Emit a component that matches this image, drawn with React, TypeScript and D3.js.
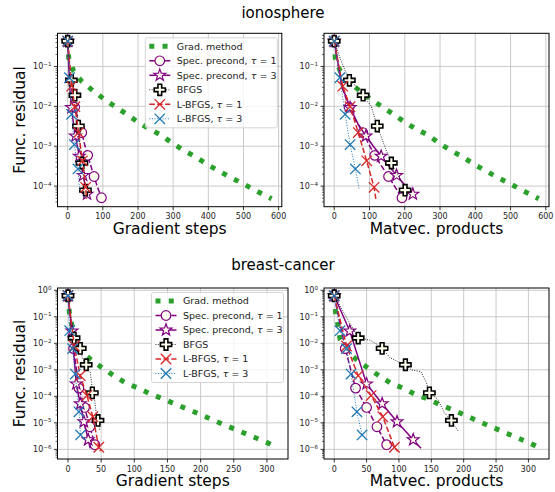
import React from 'react';
import * as d3 from 'd3';

// ---------- data: ionosphere ----------
const ionoGradIters = [0, 3, 17, 40, 71, 102, 134, 166, 197, 229, 266, 297, 331, 364, 397, 430, 465, 499, 532, 567, 580];
const ionoGradRes = [0.43, 0.16, 0.076, 0.042, 0.025, 0.0155, 0.01, 0.0065, 0.0042, 0.0028, 0.0019, 0.0012, 0.00078, 0.00054, 0.00035, 0.00024, 0.000162, 0.000115, 0.000079, 0.000055, 0.000048];

const ionoSpec1Steps = [0, 10, 20, 30, 40, 48, 57, 66, 75, 85, 96];
const ionoSpec1Matvecs = [0, 21, 42, 61, 81, 98, 115, 134, 154, 173, 192];
const ionoSpec1Res = [0.43, 0.032, 0.0095, 0.0044, 0.0022, 0.00112, 0.00059, 0.00032, 0.000174, 0.000093, 0.000051];
const ionoSpec1Marks = [0, 2, 4, 6, 8, 10];

const ionoSpec3Steps = [0, 5.5, 11, 16.5, 22, 27.5, 33, 38.5, 44, 49.5, 55];
const ionoSpec3Matvecs = [0, 22, 45, 67, 90, 111, 133, 155, 177, 200, 223];
const ionoSpec3Res = [0.43, 0.032, 0.0093, 0.0037, 0.0018, 0.001, 0.00056, 0.00032, 0.000186, 0.000107, 0.000063];
const ionoSpec3Marks = [0, 2, 4, 6, 8, 10];

const ionoBfgsSteps = [0, 5, 10.5, 15.5, 20.5, 25.5, 30.5, 35.5, 40.5, 45.5, 50.5];
const ionoBfgsMatvecs = [0, 21, 43, 62, 82, 105, 122, 145, 162, 183, 201];
const ionoBfgsRes = [0.43, 0.126, 0.045, 0.032, 0.019, 0.01, 0.0032, 0.00089, 0.00038, 0.000178, 0.000079];
const ionoBfgsMarks = [0, 2, 4, 6, 8, 10];

const ionoLbfgs1Steps = [0, 11, 20.5, 31, 42, 51, 53.5];
const ionoLbfgs1Matvecs = [0, 24, 45, 68, 92, 113, 118];
const ionoLbfgs1Res = [0.43, 0.032, 0.0098, 0.0022, 0.00043, 0.000093, 0.000048];
const ionoLbfgs1Marks = [0, 1, 2, 3, 4, 5];

const ionoLbfgs3Steps = [0, 5, 11, 19, 29, 34];
const ionoLbfgs3Matvecs = [0, 16, 31, 45, 60, 71];
const ionoLbfgs3Res = [0.43, 0.052, 0.0063, 0.0011, 0.00027, 0.000081];
const ionoLbfgs3Marks = [0, 1, 2, 3, 4];

// ---------- data: breast-cancer ----------
const bcGradIters = [0, 2, 6, 9, 20, 34, 51, 69, 87, 106, 125, 145, 163, 183, 202, 221, 240, 260, 279, 298, 316];
const bcGradRes = [0.62, 0.15, 0.046, 0.014, 0.005, 0.0025, 0.00123, 0.0006, 0.00032, 0.000204, 0.00012, 0.000078, 0.000049, 0.000031, 0.0000195, 0.000012, 0.0000076, 0.0000047, 0.000003, 0.0000019, 0.0000012];

const bcSpec1Steps = [0, 8.5, 16.5, 25, 33, 40.5];
const bcSpec1Matvecs = [0, 17, 33, 50, 66, 81];
const bcSpec1Res = [0.62, 0.0063, 0.000204, 0.000038, 0.0000071, 0.0000015];
const bcSpec1Marks = [0, 1, 2, 3, 4, 5];

const bcSpec3Steps = [0, 6, 12.5, 18.5, 24, 30.5, 33.5];
const bcSpec3Matvecs = [0, 24, 50, 74, 97, 122, 134];
const bcSpec3Res = [0.62, 0.029, 0.000295, 0.0000525, 0.000011, 0.0000023, 0.0000011];
const bcSpec3Marks = [0, 1, 2, 3, 4, 5];

const bcBfgsSteps = [0, 9.25, 13.75, 16.25, 18.5, 21.5, 24.5, 27.5, 29.75, 33.5, 35.5, 36.75, 40, 42.5, 45.25, 47.75];
const bcBfgsMatvecs = [0, 37, 55, 65, 74, 86, 98, 110, 119, 134, 142, 147, 160, 170, 181, 191];
const bcBfgsRes = [0.62, 0.0158, 0.0132, 0.0095, 0.00646, 0.00288, 0.00204, 0.00155, 0.001, 0.00085, 0.00034, 0.000135, 0.0000776, 0.0000245, 0.0000123, 0.000005];
const bcBfgsMarks = [0, 1, 4, 7, 11, 14];

const bcLbfgs1Steps = [0, 9.5, 18.5, 28.5, 37.5, 46.5, 49];
const bcLbfgs1Matvecs = [0, 19, 37, 57, 75, 93, 98];
const bcLbfgs1Res = [0.62, 0.0079, 0.0006, 0.000107, 0.000017, 0.0000012, 0.00000085];
const bcLbfgs1Marks = [0, 1, 2, 3, 4, 5];

const bcLbfgs3Steps = [0, 2.6, 7, 11, 16.5, 19];
const bcLbfgs3Matvecs = [0, 9, 19, 26, 35, 43];
const bcLbfgs3Res = [0.62, 0.03, 0.0063, 0.00069, 0.000026, 0.0000035];
const bcLbfgs3Marks = [0, 1, 2, 3, 4, 5];

// ---------- labels ----------
const methodNames = ['Grad. method', 'Spec. precond, ', 'Spec. precond, ', 'BFGS', 'L-BFGS, ', 'L-BFGS, '];
const methodTau = [null, 1, 3, null, 1, 3];
const ionoXTicks = [0, 100, 200, 300, 400, 500, 600];
const bcXTicks = [0, 50, 100, 150, 200, 250, 300];

const styles = [
  { color: '#2ca02c', width: 5, dash: '5 8.25', marker: null },
  { color: 'purple', width: 1.5, dash: '5.5 2.4', marker: 'circle' },
  { color: 'purple', width: 1.5, dash: null, marker: 'star' },
  { color: 'black', width: 0.9, dash: '0.9 1.5', marker: 'plus' },
  { color: '#d62728', width: 1.5, dash: '5.5 2.4', marker: 'x' },
  { color: '#1f77b4', width: 1, dash: '1 1.65', marker: 'x' },
];

const FONT = 'DejaVu Sans, sans-serif';

type S = { steps: number[]; matvecs: number[]; res: number[]; marks: number[] };

const ionoSeries: S[] = [
  { steps: ionoGradIters, matvecs: ionoGradIters, res: ionoGradRes, marks: [] },
  { steps: ionoSpec1Steps, matvecs: ionoSpec1Matvecs, res: ionoSpec1Res, marks: ionoSpec1Marks },
  { steps: ionoSpec3Steps, matvecs: ionoSpec3Matvecs, res: ionoSpec3Res, marks: ionoSpec3Marks },
  { steps: ionoBfgsSteps, matvecs: ionoBfgsMatvecs, res: ionoBfgsRes, marks: ionoBfgsMarks },
  { steps: ionoLbfgs1Steps, matvecs: ionoLbfgs1Matvecs, res: ionoLbfgs1Res, marks: ionoLbfgs1Marks },
  { steps: ionoLbfgs3Steps, matvecs: ionoLbfgs3Matvecs, res: ionoLbfgs3Res, marks: ionoLbfgs3Marks },
];

const bcSeries: S[] = [
  { steps: bcGradIters, matvecs: bcGradIters, res: bcGradRes, marks: [] },
  { steps: bcSpec1Steps, matvecs: bcSpec1Matvecs, res: bcSpec1Res, marks: bcSpec1Marks },
  { steps: bcSpec3Steps, matvecs: bcSpec3Matvecs, res: bcSpec3Res, marks: bcSpec3Marks },
  { steps: bcBfgsSteps, matvecs: bcBfgsMatvecs, res: bcBfgsRes, marks: bcBfgsMarks },
  { steps: bcLbfgs1Steps, matvecs: bcLbfgs1Matvecs, res: bcLbfgs1Res, marks: bcLbfgs1Marks },
  { steps: bcLbfgs3Steps, matvecs: bcLbfgs3Matvecs, res: bcLbfgs3Res, marks: bcLbfgs3Marks },
];

function Marker({ kind, color, cx, cy }: any) {
  if (kind === 'circle') {
    return <circle cx={cx} cy={cy} r={4.8} fill="ivory" stroke={color} strokeWidth={1.2} />;
  }
  if (kind === 'star') {
    const pts = d3.range(10).map(i => {
      const a = -Math.PI / 2 + (i * Math.PI) / 5;
      const r = i % 2 ? 2.5 : 6.2;
      return [cx + r * Math.cos(a), cy + r * Math.sin(a)];
    });
    return <path d={'M' + pts.map(p => p.join(',')).join('L') + 'Z'} fill="ivory" stroke={color} strokeWidth={1.2} />;
  }
  if (kind === 'plus') {
    const a = 5.6, b = a / 3;
    const p = [[-b, -a], [b, -a], [b, -b], [a, -b], [a, b], [b, b], [b, a], [-b, a], [-b, b], [-a, b], [-a, -b], [-b, -b]];
    return <path d={'M' + p.map(q => `${cx + q[0]},${cy + q[1]}`).join('L') + 'Z'} fill="ivory" stroke="black" strokeWidth={1.6} />;
  }
  if (kind === 'x') {
    const h = 5.2;
    return (
      <g stroke={color} strokeWidth={1.3}>
        <line x1={cx - h} y1={cy - h} x2={cx + h} y2={cy + h} />
        <line x1={cx - h} y1={cy + h} x2={cx + h} y2={cy - h} />
      </g>
    );
  }
  return null;
}

function Pow({ e }: { e: number }) {
  return (
    <>
      10<tspan dy={-3.6} fontSize={5.6}>{e < 0 ? '\u2212' + -e : e}</tspan>
    </>
  );
}

function Panel({ id, left, top, width, height, series, xKey, xTicks, xLabel, yLabel, legend }: any) {
  const allX = series.flatMap((s: S) => (s as any)[xKey]);
  const allL = series.flatMap((s: S) => s.res.map(Math.log10));
  const [xa, xb] = d3.extent(allX) as [number, number];
  const [la, lb] = d3.extent(allL) as [number, number];
  const xp = (xb - xa) * 0.05, lp = (lb - la) * 0.05;
  const x = d3.scaleLinear().domain([xa - xp, xb + xp]).range([left, left + width]);
  const y = d3.scaleLog().domain([10 ** (la - lp), 10 ** (lb + lp)]).range([top + height, top]);
  const bottom = top + height;

  const majors: number[] = [];
  const minors: number[] = [];
  for (let e = Math.floor(la - lp); e <= Math.ceil(lb + lp); e++) {
    if (e >= la - lp && e <= lb + lp) majors.push(e);
    for (let k = 2; k <= 9; k++) {
      const v = Math.log10(k * 10 ** e);
      if (v >= la - lp && v <= lb + lp) minors.push(k * 10 ** e);
    }
  }

  const line = d3.line<[number, number]>().x(d => x(d[0])).y(d => y(d[1]));

  const lgW = 132, lgH = 90;
  const lgL = left + width - 4.5 - lgW, lgT = top + 4.5;

  return (
    <g fontFamily={FONT}>
      <defs>
        <clipPath id={id}>
          <rect x={left} y={top} width={width} height={height} />
        </clipPath>
      </defs>
      {/* grid */}
      <g stroke="#c4c4c4" strokeWidth={0.9}>
        {xTicks.map((t: number) => <line key={'gx' + t} x1={x(t)} x2={x(t)} y1={top} y2={bottom} />)}
        {majors.map(e => <line key={'gy' + e} x1={left} x2={left + width} y1={y(10 ** e)} y2={y(10 ** e)} />)}
      </g>
      {/* series */}
      <g clipPath={`url(#${id})`}>
        {series.map((s: S, i: number) => {
          const st = styles[i];
          const xs = (s as any)[xKey] as number[];
          const pts = xs.map((v, j) => [v, s.res[j]] as [number, number]);
          return (
            <g key={i}>
              <path d={line(pts) || ''} fill="none" stroke={st.color} strokeWidth={st.width}
                strokeDasharray={st.dash || undefined} strokeLinejoin="round" />
              {s.marks.map(j => <Marker key={j} kind={st.marker} color={st.color} cx={x(xs[j])} cy={y(s.res[j])} />)}
            </g>
          );
        })}
      </g>
      {/* axes frame */}
      <rect x={left} y={top} width={width} height={height} fill="none" stroke="black" strokeWidth={1} />
      {/* x ticks */}
      {xTicks.map((t: number) => (
        <g key={'xt' + t}>
          <line x1={x(t)} x2={x(t)} y1={bottom} y2={bottom + 3.5} stroke="black" strokeWidth={0.8} />
          <text x={x(t)} y={bottom + 12.5} fontSize={8} textAnchor="middle" fill="#222">{t}</text>
        </g>
      ))}
      {/* y ticks */}
      {minors.map((v, k) => (
        <line key={'ym' + k} x1={left - 2} x2={left} y1={y(v)} y2={y(v)} stroke="black" strokeWidth={0.6} />
      ))}
      {majors.map(e => (
        <g key={'yt' + e}>
          <line x1={left - 3.5} x2={left} y1={y(10 ** e)} y2={y(10 ** e)} stroke="black" strokeWidth={0.8} />
          <text x={left - 6} y={y(10 ** e) + 3} fontSize={8} textAnchor="end" fill="#222"><Pow e={e} /></text>
        </g>
      ))}
      <text x={left + width / 2} y={bottom + 27} fontSize={15.5} textAnchor="middle">{xLabel}</text>
      {yLabel && (
        <text transform={`translate(25,${top + height / 2}) rotate(-90)`} fontSize={15.5} textAnchor="middle">{yLabel}</text>
      )}
      {legend && (
        <g>
          <rect x={lgL} y={lgT} width={lgW} height={lgH} rx={2} fill="white" fillOpacity={0.8} stroke="#cccccc" strokeWidth={0.8} />
          {methodNames.map((name, i) => {
            const st = styles[i];
            const cy = lgT + 8.5 + i * 14.5;
            const hx0 = lgL + 4, hx1 = lgL + 25;
            return (
              <g key={'lg' + i}>
                <line x1={hx0} x2={hx1} y1={cy} y2={cy} stroke={st.color} strokeWidth={st.width}
                  strokeDasharray={st.dash || undefined} />
                {st.marker && <Marker kind={st.marker} color={st.color} cx={(hx0 + hx1) / 2} cy={cy} />}
                <text x={lgL + 31.5} y={cy + 3.4} fontSize={9.5} fill="#222">
                  {name}
                  {methodTau[i] !== null && (
                    <>
                      <tspan fontStyle="italic">τ</tspan>
                      {' = ' + methodTau[i]}
                    </>
                  )}
                </text>
              </g>
            );
          })}
        </g>
      )}
    </g>
  );
}

export default function App() {
  return (
    <svg width={555} height={492} style={{ position: 'absolute', left: 0, top: 0, background: 'white' }}>
      <rect width={555} height={492} fill="white" />
      <text x={283} y={17.5} fontSize={15} textAnchor="middle" fontFamily={FONT}>ionosphere</text>
      <text x={283} y={270} fontSize={15} textAnchor="middle" fontFamily={FONT}>breast-cancer</text>
      <Panel id="c1" left={57.5} top={33.3} width={224.3} height={173.4} series={ionoSeries} xKey="steps"
        xTicks={ionoXTicks} xLabel="Gradient steps" yLabel="Func. residual" legend />
      <Panel id="c2" left={324} top={33.3} width={225} height={173.4} series={ionoSeries} xKey="matvecs"
        xTicks={ionoXTicks} xLabel="Matvec. products" />
      <Panel id="c3" left={57.5} top={288} width={230.5} height={171} series={bcSeries} xKey="steps"
        xTicks={bcXTicks} xLabel="Gradient steps" yLabel="Func. residual" legend />
      <Panel id="c4" left={324} top={288} width={225} height={171} series={bcSeries} xKey="matvecs"
        xTicks={bcXTicks} xLabel="Matvec. products" />
    </svg>
  );
}
